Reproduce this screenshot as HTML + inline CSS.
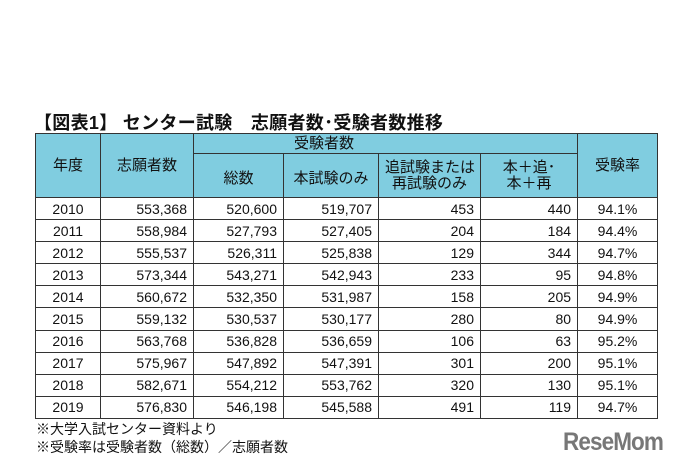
<!DOCTYPE html><html><head><meta charset="utf-8"><style>
body{margin:0;width:681px;height:473px;background:#fff;position:relative;overflow:hidden;font-family:"Liberation Sans","Noto Sans CJK JP",sans-serif;color:#111}
.t{position:absolute;left:34px;top:109px;font-size:18px;font-weight:bold;white-space:nowrap;letter-spacing:0.3px}
table{position:absolute;left:35px;top:133px;border-collapse:collapse;font-size:14px;table-layout:fixed;width:622px}
td,th{border:1px solid #333;padding:0 6px;height:21.1px;line-height:14px;overflow:hidden;white-space:nowrap}
th{background:#80cde0;font-weight:normal;text-align:center;font-size:15px;line-height:16px}
td{text-align:right}
td:first-child{text-align:center}
td:last-child{text-align:center}
.n{position:absolute;left:36px;font-size:14px;white-space:nowrap}
.logo{position:absolute;left:563px;top:428px;font-size:25px;font-weight:bold;color:#777;letter-spacing:-1px;transform:scaleX(0.9);transform-origin:left}
</style></head><body>
<div class="t">【図表1】 センター試験　志願者数･受験者数推移</div>
<table>
<colgroup><col style="width:65px"><col style="width:93px"><col style="width:90px"><col style="width:95px"><col style="width:102px"><col style="width:97px"><col style="width:80px"></colgroup>
<tr><th rowspan="2">年度</th><th rowspan="2">志願者数</th><th colspan="4" style="height:19px;text-align:left;padding-left:100px">受験者数</th><th rowspan="2">受験率</th></tr>
<tr><th style="height:37px;padding-top:6px">総数</th><th style="padding-top:6px">本試験のみ</th><th>追試験または<br>再試験のみ</th><th>本＋追･<br>本＋再</th></tr>
<tr><td>2010</td><td>553,368</td><td>520,600</td><td>519,707</td><td>453</td><td>440</td><td>94.1%</td></tr>
<tr><td>2011</td><td>558,984</td><td>527,793</td><td>527,405</td><td>204</td><td>184</td><td>94.4%</td></tr>
<tr><td>2012</td><td>555,537</td><td>526,311</td><td>525,838</td><td>129</td><td>344</td><td>94.7%</td></tr>
<tr><td>2013</td><td>573,344</td><td>543,271</td><td>542,943</td><td>233</td><td>95</td><td>94.8%</td></tr>
<tr><td>2014</td><td>560,672</td><td>532,350</td><td>531,987</td><td>158</td><td>205</td><td>94.9%</td></tr>
<tr><td>2015</td><td>559,132</td><td>530,537</td><td>530,177</td><td>280</td><td>80</td><td>94.9%</td></tr>
<tr><td>2016</td><td>563,768</td><td>536,828</td><td>536,659</td><td>106</td><td>63</td><td>95.2%</td></tr>
<tr><td>2017</td><td>575,967</td><td>547,892</td><td>547,391</td><td>301</td><td>200</td><td>95.1%</td></tr>
<tr><td>2018</td><td>582,671</td><td>554,212</td><td>553,762</td><td>320</td><td>130</td><td>95.1%</td></tr>
<tr><td>2019</td><td>576,830</td><td>546,198</td><td>545,588</td><td>491</td><td>119</td><td>94.7%</td></tr>
</table>
<div class="n" style="top:419px">※大学入試センター資料より</div>
<div class="n" style="top:437px">※受験率は受験者数（総数）／志願者数</div>
<div class="logo">ReseMom</div>
</body></html>
